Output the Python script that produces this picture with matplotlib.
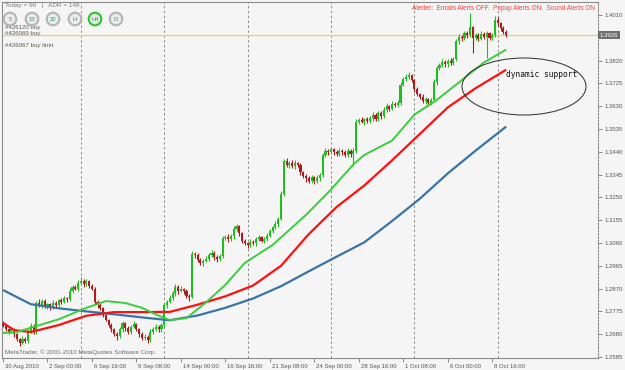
import matplotlib
matplotlib.use('Agg')
import matplotlib.pyplot as plt
import matplotlib.transforms as mtrans
from matplotlib.patches import Ellipse, Circle
import numpy as np

# ---------------- data ----------------
first_open = 1.2725
closes = [
    1.2715, 1.2700, 1.2690, 1.2702, 1.2680, 1.2660, 1.2645, 1.2660, 1.2652, 1.2690,
    1.2715, 1.2690, 1.2812, 1.2800, 1.2818, 1.2795, 1.2805, 1.2790, 1.2812, 1.2800,
    1.2822, 1.2815, 1.2830, 1.2826, 1.2860, 1.2875, 1.2870, 1.2895, 1.2902, 1.2890,
    1.2900, 1.2882, 1.2870, 1.2815, 1.2800, 1.2790, 1.2760, 1.2740, 1.2720, 1.2700,
    1.2680, 1.2672, 1.2700, 1.2725, 1.2705, 1.2690, 1.2710, 1.2722, 1.2700, 1.2680,
    1.2665, 1.2670, 1.2655, 1.2690, 1.2700, 1.2712, 1.2700, 1.2720, 1.2800, 1.2815,
    1.2832, 1.2850, 1.2875, 1.2860, 1.2868, 1.2858, 1.2840, 1.2835, 1.3015, 1.3010,
    1.2990, 1.2975, 1.2985, 1.2995, 1.3010, 1.3020, 1.3000, 1.2992, 1.3005, 1.3080,
    1.3085, 1.3075, 1.3090, 1.3120, 1.3130, 1.3100, 1.3070, 1.3060, 1.3050, 1.3065,
    1.3060, 1.3075, 1.3085, 1.3070, 1.3078, 1.3090, 1.3110, 1.3125, 1.3140, 1.3160,
    1.3265, 1.3400, 1.3385, 1.3395, 1.3380, 1.3392, 1.3385, 1.3355, 1.3340, 1.3330,
    1.3320, 1.3335, 1.3318, 1.3330, 1.3345, 1.3425, 1.3445, 1.3438, 1.3450, 1.3440,
    1.3432, 1.3445, 1.3440, 1.3425, 1.3445, 1.3430, 1.3445, 1.3565, 1.3572, 1.3565,
    1.3575, 1.3568, 1.3580, 1.3595, 1.3575, 1.3600, 1.3590, 1.3615, 1.3630, 1.3620,
    1.3640, 1.3635, 1.3645, 1.3720, 1.3745, 1.3750, 1.3760, 1.3740, 1.3700, 1.3680,
    1.3670, 1.3650, 1.3660, 1.3645, 1.3655, 1.3730, 1.3790, 1.3800, 1.3815, 1.3805,
    1.3818, 1.3810, 1.3825, 1.3900, 1.3920, 1.3915, 1.3935, 1.3925, 1.3960, 1.3915,
    1.3925, 1.3910, 1.3930, 1.3920, 1.3935, 1.3915, 1.3925, 1.3990, 1.3975, 1.3955,
    1.3940, 1.3926,
]
upper_wick_pips = [
    8, 5, 6, 10, 4, 6, 5, 12, 8, 10,
    12, 6, 5, 15, 10, 8, 6, 5, 10, 8,
    6, 8, 10, 5, 12, 8, 10, 12, 15, 8,
    10, 6, 8, 5, 6, 8, 5, 6, 4, 8,
    6, 10, 12, 8, 5, 10, 8, 12, 6, 5,
    8, 10, 6, 12, 8, 10, 6, 8, 10, 6,
    12, 10, 15, 8, 12, 6, 10, 8, 12, 6,
    8, 6, 10, 12, 8, 10, 6, 8, 10, 8,
    10, 12, 8, 10, 8, 6, 5, 8, 6, 10,
    8, 12, 10, 6, 8, 10, 8, 6, 10, 8,
    10, 12, 15, 8, 10, 12, 6, 8, 5, 6,
    8, 10, 6, 12, 8, 10, 12, 8, 10, 6,
    8, 10, 6, 8, 12, 6, 10, 10, 8, 12,
    6, 10, 8, 12, 6, 10, 8, 10, 12, 6,
    10, 8, 12, 10, 8, 15, 12, 6, 5, 8,
    6, 10, 8, 6, 10, 12, 8, 10, 12, 6,
    8, 12, 10, 10, 12, 8, 10, 8, 58, 6,
    10, 8, 12, 8, 10, 6, 8, 15, 10, 6,
    8, 6,
]
lower_wick_pips = [
    6, 8, 10, 6, 12, 8, 15, 6, 10, 8,
    6, 10, 8, 8, 12, 6, 10, 8, 6, 10,
    8, 10, 6, 12, 8, 10, 6, 8, 10, 12,
    8, 10, 6, 10, 12, 8, 10, 6, 12, 10,
    8, 15, 6, 10, 12, 8, 10, 6, 8, 12,
    10, 8, 12, 6, 10, 8, 12, 10, 8, 10,
    6, 8, 10, 12, 6, 10, 8, 15, 6, 12,
    10, 8, 12, 6, 10, 8, 12, 10, 8, 6,
    8, 10, 6, 12, 8, 10, 12, 8, 10, 6,
    10, 12, 8, 6, 10, 8, 6, 10, 8, 12,
    6, 10, 8, 12, 6, 10, 8, 12, 10, 15,
    10, 8, 12, 6, 10, 8, 6, 10, 8, 12,
    8, 10, 12, 8, 6, 10, 50, 8, 10, 6,
    12, 8, 10, 12, 8, 6, 12, 10, 8, 10,
    6, 10, 8, 10, 6, 12, 8, 10, 12, 8,
    10, 8, 12, 15, 8, 6, 10, 8, 6, 10,
    12, 8, 10, 6, 10, 12, 8, 10, 6, 65,
    8, 10, 6, 12, 90, 8, 10, 6, 12, 10,
    8, 6,
]

# moving averages (bar index, price) knots
ma_fast_bars = [0, 5, 10, 20, 30, 37, 44, 50, 55, 60, 66, 73, 80, 87, 97, 109, 118, 126, 130, 140, 148, 156, 164, 173, 181]
ma_fast_vals = [1.2685, 1.2689, 1.2707, 1.2742, 1.2790, 1.2818, 1.2810, 1.2790, 1.2762, 1.2739, 1.2747, 1.2812, 1.2886,
                1.2977, 1.3052, 1.3177, 1.3283, 1.3387, 1.3427, 1.3487, 1.3595, 1.3656, 1.3729, 1.3812, 1.3866]
ma_mid_bars = [0, 4, 10, 20, 30, 40, 50, 60, 70, 80, 90, 100, 110, 120, 130, 140, 150, 160, 170, 181]
ma_mid_vals = [1.2727, 1.2697, 1.2689, 1.2718, 1.2757, 1.2772, 1.2772, 1.2773, 1.2803, 1.2838, 1.2883, 1.2965, 1.3097,
               1.3210, 1.3300, 1.3405, 1.3515, 1.3625, 1.3705, 1.3782]
ma_slow_bars = [0, 10, 20, 30, 40, 50, 60, 70, 80, 90, 100, 110, 120, 130, 140, 150, 160, 170, 181]
ma_slow_vals = [1.2864, 1.2805, 1.2788, 1.2775, 1.2763, 1.2750, 1.2738, 1.2758, 1.2790, 1.2829, 1.2880, 1.2942, 1.3003,
                1.3063, 1.3152, 1.3245, 1.3350, 1.3445, 1.3545]

x_tick_labels = ["30 Aug 2010", "2 Sep 00:00", "6 Sep 16:00", "9 Sep 08:00", "14 Sep 00:00", "16 Sep 16:00",
                 "21 Sep 08:00", "24 Sep 00:00", "28 Sep 16:00", "1 Oct 08:00", "6 Oct 00:00", "8 Oct 16:00"]
bid_price = 1.3926
bid_label = "1.3926"
header_text = "Today = 90   |   ADR = 148"
alert_text = "Alerter:  Emails Alerts OFF.  Popup Alerts ON.  Sound Alerts ON"
order_labels = ["#426120 buy", "#426069 buy", "#426067 buy limit"]
tf_buttons = ["5", "15", "30", "H", "H4", "D"]
copyright_text = "MetaTrader, \u00a9 2001-2010 MetaQuotes Software Corp."
note_text = "dynamic support"

# ---------------- figure ----------------
W, H = 625, 370
BG = '#f5f5f5'
fig = plt.figure(figsize=(W / 100, H / 100), dpi=100, facecolor=BG)
plt.rcParams['font.family'] = ['Liberation Sans', 'DejaVu Sans']

ax = fig.add_axes([2 / W, 1 - 358 / H, 596 / W, 356 / H])
ax.set_facecolor(BG)
px_per_bar = 2.78
ax.set_xlim((2 - 3) / px_per_bar, (598 - 3) / px_per_bar)
ax.set_ylim(1.258083, 1.406417)

closes_a = np.array(closes)
opens_a = np.concatenate([[first_open], closes_a[:-1]])
hi_body = np.maximum(opens_a, closes_a)
lo_body = np.minimum(opens_a, closes_a)
highs = hi_body + np.array(upper_wick_pips) * 1e-4
lows = lo_body - np.array(lower_wick_pips) * 1e-4
idx = np.arange(len(closes_a))
up = closes_a >= opens_a
GREEN = '#22bb22'
RED = '#b01a1a'
colors = np.where(up, GREEN, RED)

# grid (vertical dashed separators)
for gx in np.arange(28, len(closes_a), 30):
    ax.axvline(gx, color='#8a8a8a', lw=0.7, ls=(0, (2.5, 2.5)), zorder=1)

# bid line
ax.axhline(bid_price, color='#f2cf5a', lw=0.9, zorder=2)

ax.vlines(idx, lows, highs, colors=colors, lw=0.8, zorder=3)
body_h = np.maximum(hi_body - lo_body, 0.00015)
ax.bar(idx, body_h, bottom=lo_body, width=0.75, color=colors, edgecolor='none', zorder=4)

ax.plot(ma_slow_bars, ma_slow_vals, color='#3a73a8', lw=1.6, zorder=5, solid_capstyle='butt')
ax.plot(ma_mid_bars, ma_mid_vals, color='#ff1010', lw=1.6, zorder=5, solid_capstyle='butt')
ax.plot(ma_fast_bars, ma_fast_vals, color='#3ccc3c', lw=1.4, zorder=5, solid_capstyle='butt')

# axes styling
for s in ['left', 'bottom', 'top']:
    ax.spines[s].set_color('#8c8c8c')
    ax.spines[s].set_linewidth(0.8)
ax.spines['right'].set_color('#8c8c8c')
ax.spines['right'].set_linewidth(0.8)
ax.spines['right'].set_linestyle((0, (1.5, 1.5)))

ax.yaxis.tick_right()
yt = np.round(np.arange(1.2585, 1.4015, 0.0095), 4)
ax.set_yticks(yt)
# the tick label hidden under the bid price box is left blank
ax.set_yticklabels(["" if abs(v - bid_price) < 0.0015 else f"{v:.4f}" for v in yt])
ax.tick_params(axis='y', length=3, width=0.6, color='#777777', pad=2, labelsize=4.3, labelcolor='#555555')

xt = np.arange(len(x_tick_labels)) * 16
ax.set_xticks(xt)
ax.set_xticklabels(x_tick_labels, ha='left')
ax.tick_params(axis='x', length=3, width=0.6, color='#777777', pad=1.5, labelsize=4.3, labelcolor='#555555')
offset = mtrans.ScaledTranslation(2 / 100, 0, fig.dpi_scale_trans)
for lbl in ax.get_xticklabels():
    lbl.set_transform(lbl.get_transform() + offset)

# bid price box on the right axis
trans = mtrans.blended_transform_factory(ax.transAxes, ax.transData)
ax.text(1.003, bid_price, bid_label, transform=trans, ha='left', va='center', fontsize=4.3, color='white',
        bbox=dict(facecolor='#6e6e6e', edgecolor='none', boxstyle='square,pad=0.25'), zorder=10, clip_on=False)

# ---------------- overlay (pixel coordinates) ----------------
ov = fig.add_axes([0, 0, 1, 1])
ov.set_xlim(0, W)
ov.set_ylim(H, 0)
ov.axis('off')
ov.patch.set_alpha(0)

ov.text(5, 6, header_text, fontsize=4.6, color='#7a7a7a', va='center', ha='left')
ov.text(595, 9, alert_text, fontsize=4.7, color='#ff3c3c', va='center', ha='right')
for k, (lab, yy) in enumerate(zip(order_labels, [27, 33.5, 46])):
    ov.text(5, yy, lab, fontsize=4.4, color='#5a5a5a', va='center', ha='left', zorder=1)

bx = [10, 32, 53, 75, 95, 116]
for lab, cx in zip(tf_buttons, bx):
    ring = '#22cc22' if lab == 'H4' else '#b4b4b4'
    ov.add_patch(Circle((cx, 19), 6.3, facecolor='#ececec', edgecolor=ring, lw=1.5, zorder=3))
    ov.text(cx, 19.3, lab, fontsize=4.2, color='#3f8f86', ha='center', va='center', zorder=4)

ov.text(5, 352, copyright_text, fontsize=4.5, color='#6a6a6a', va='center', ha='left')

ov.add_patch(Ellipse((524, 86.5), 124, 57, facecolor='none', edgecolor='#2a2a2a', lw=0.7, zorder=6))
ov.text(506, 74.5, note_text, fontsize=5.7, family='DejaVu Sans Mono', color='#111111', va='center', ha='left',
        zorder=7)

fig.savefig('out.png', dpi=100, facecolor=BG)
